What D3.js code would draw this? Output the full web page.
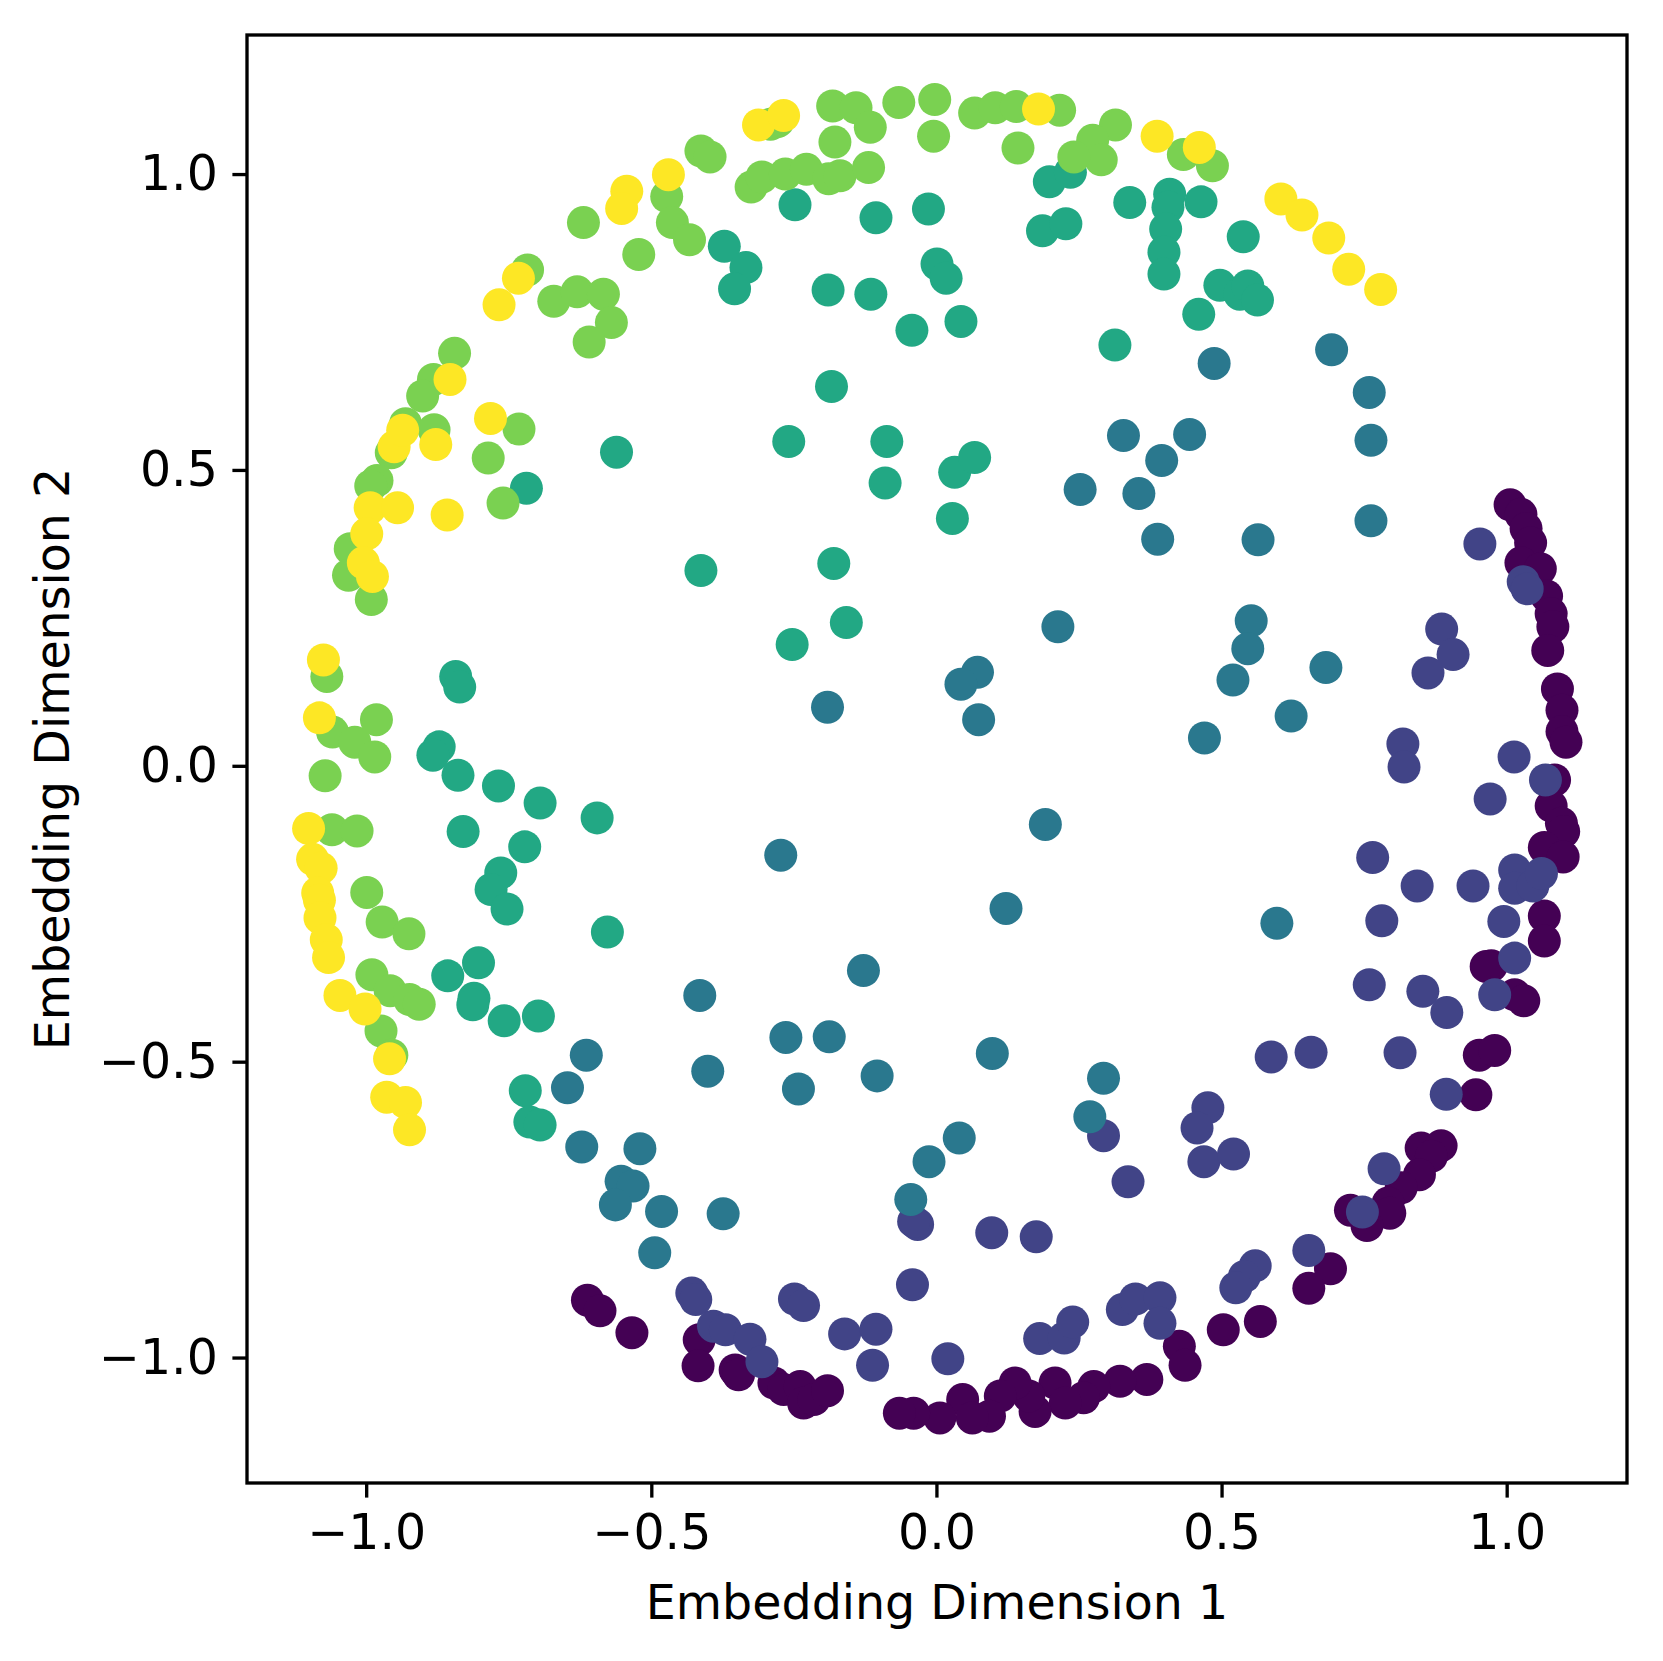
<!DOCTYPE html>
<html>
<head>
<meta charset="utf-8">
<script src="https://cdn.jsdelivr.net/npm/d3@7"></script>
<style>
  body { margin: 0; background: #fff; }
  text { font-family: "DejaVu Sans", sans-serif; }
</style>
</head>
<body>
<svg id="chart" width="1663" height="1661"></svg>
<script>
// embedding points, one array per label (0 = purple ... 5 = yellow)
var cluster0 = [
  [1.006,0.441],[1.025,0.425],[1.034,0.401],[1.042,0.377],[1.025,0.343],[1.059,0.333],
  [1.070,0.287],[1.078,0.257],[1.081,0.235],[1.072,0.195],[1.089,0.130],[1.097,0.094],
  [1.097,0.058],[1.104,0.040],[1.084,-0.024],[1.078,-0.068],[1.096,-0.097],[1.100,-0.111],
  [1.066,-0.138],[1.099,-0.154],[1.066,-0.254],[1.066,-0.296],[0.973,-0.338],[0.964,-0.339],
  [1.014,-0.387],[1.030,-0.397],[0.952,-0.489],[0.979,-0.481],[0.946,-0.556],[0.850,-0.646],
  [0.885,-0.642],[0.868,-0.660],[0.847,-0.691],[0.815,-0.713],[0.792,-0.739],[0.795,-0.756],
  [0.726,-0.751],[0.755,-0.777],[0.691,-0.850],[0.653,-0.883],[0.568,-0.939],[0.503,-0.953],
  [0.426,-0.981],[0.436,-1.013],[0.369,-1.037],[0.322,-1.040],[0.276,-1.049],[0.258,-1.068],
  [0.208,-1.043],[0.226,-1.077],[0.173,-1.091],[0.162,-1.065],[0.138,-1.043],[0.112,-1.065],
  [0.093,-1.099],[0.046,-1.071],[0.063,-1.102],[0.006,-1.102],[-0.040,-1.094],[-0.065,-1.094],
  [-0.416,-0.970],[-0.418,-1.014],[-0.353,-1.021],[-0.347,-1.029],[-0.285,-1.043],[-0.268,-1.054],
  [-0.239,-1.049],[-0.233,-1.077],[-0.215,-1.071],[-0.191,-1.056],[-0.612,-0.903],[-0.590,-0.921],
  [-0.534,-0.958]
];
var cluster1 = [
  [0.953,0.375],[1.029,0.311],[1.036,0.299],[0.886,0.231],[0.906,0.188],[0.862,0.157],
  [0.818,0.037],[1.013,0.015],[0.820,-0.002],[1.068,-0.024],[0.971,-0.056],[0.765,-0.155],
  [0.843,-0.203],[0.941,-0.203],[1.014,-0.176],[1.014,-0.207],[1.046,-0.203],[1.061,-0.182],
  [0.781,-0.262],[0.995,-0.263],[1.014,-0.325],[0.759,-0.370],[0.853,-0.381],[0.895,-0.417],
  [0.979,-0.387],[0.587,-0.492],[0.657,-0.484],[0.813,-0.485],[0.894,-0.555],[0.476,-0.578],
  [0.457,-0.612],[0.469,-0.669],[0.521,-0.656],[0.785,-0.681],[0.747,-0.754],[0.653,-0.819],
  [0.559,-0.845],[0.540,-0.863],[0.525,-0.882],[0.293,-0.625],[0.336,-0.703],[-0.033,-0.775],
  [-0.040,-0.770],[0.097,-0.789],[0.175,-0.796],[-0.042,-0.877],[-0.249,-0.901],[-0.233,-0.912],
  [-0.161,-0.960],[-0.106,-0.952],[-0.112,-1.013],[0.020,-1.002],[0.181,-0.968],[0.224,-0.967],
  [0.239,-0.940],[0.326,-0.919],[0.349,-0.901],[0.392,-0.899],[0.392,-0.942],[-0.429,-0.891],
  [-0.422,-0.902],[-0.391,-0.947],[-0.370,-0.953],[-0.327,-0.969],[-0.306,-1.007]
];
var cluster2 = [
  [0.487,0.680],[0.693,0.703],[0.759,0.631],[0.762,0.550],[0.762,0.414],[0.444,0.560],
  [0.328,0.558],[0.395,0.516],[0.252,0.467],[0.355,0.460],[0.388,0.383],[0.213,0.235],
  [0.072,0.158],[0.043,0.138],[0.074,0.078],[-0.191,0.099],[0.564,0.382],[0.552,0.245],
  [0.546,0.198],[0.520,0.145],[0.683,0.166],[0.622,0.084],[0.470,0.047],[0.191,-0.099],
  [-0.273,-0.151],[0.122,-0.241],[-0.128,-0.346],[-0.415,-0.388],[-0.264,-0.459],[-0.188,-0.458],
  [-0.401,-0.516],[-0.242,-0.546],[-0.104,-0.524],[0.098,-0.486],[0.293,-0.528],[0.269,-0.593],
  [-0.614,-0.489],[-0.647,-0.544],[0.597,-0.266],[-0.622,-0.644],[-0.520,-0.647],[-0.553,-0.702],
  [-0.532,-0.710],[-0.563,-0.742],[-0.482,-0.753],[-0.494,-0.823],[-0.374,-0.757],[0.040,-0.629],
  [-0.013,-0.669],[-0.045,-0.733]
];
var cluster3 = [
  [-0.248,0.948],[-0.106,0.926],[-0.014,0.941],[-0.372,0.878],[-0.334,0.842],[-0.354,0.806],
  [-0.190,0.804],[-0.115,0.797],[0.001,0.848],[0.017,0.824],[-0.043,0.736],[0.043,0.751],
  [0.313,0.711],[-0.184,0.641],[0.198,0.987],[0.235,1.003],[0.186,0.904],[0.227,0.916],
  [0.339,0.952],[0.409,0.966],[0.406,0.944],[0.402,0.907],[0.399,0.868],[0.399,0.831],
  [0.464,0.953],[0.538,0.894],[0.497,0.812],[0.532,0.797],[0.546,0.811],[0.563,0.787],
  [0.460,0.763],[-0.561,0.530],[-0.719,0.469],[-0.413,0.330],[-0.843,0.151],[-0.836,0.133],
  [-0.872,0.032],[-0.883,0.018],[-0.259,0.548],[-0.087,0.548],[-0.090,0.478],[0.032,0.496],
  [0.067,0.521],[0.028,0.418],[-0.180,0.342],[-0.158,0.242],[-0.253,0.205],[-0.839,-0.016],
  [-0.768,-0.034],[-0.695,-0.063],[-0.595,-0.088],[-0.830,-0.111],[-0.722,-0.137],[-0.764,-0.181],
  [-0.781,-0.209],[-0.753,-0.242],[-0.577,-0.281],[-0.857,-0.355],[-0.803,-0.333],[-0.811,-0.393],
  [-0.813,-0.404],[-0.758,-0.431],[-0.698,-0.423],[-0.721,-0.549],[-0.713,-0.602],[-0.695,-0.607]
];
var cluster4 = [
  [-0.413,1.039],[-0.397,1.029],[-0.278,1.089],[-0.291,1.084],[-0.182,1.115],[-0.141,1.112],
  [-0.116,1.079],[-0.178,1.054],[-0.066,1.121],[-0.003,1.126],[-0.005,1.064],[0.067,1.103],
  [0.103,1.112],[0.140,1.114],[0.216,1.108],[0.143,1.044],[0.314,1.083],[0.274,1.057],
  [0.289,1.024],[0.241,1.029],[0.433,1.033],[0.484,1.014],[-0.325,0.978],[-0.306,0.995],
  [-0.265,1.000],[-0.228,1.008],[-0.189,0.992],[-0.169,0.997],[-0.119,1.011],[-0.619,0.918],
  [-0.522,0.864],[-0.473,0.962],[-0.463,0.918],[-0.433,0.889],[-0.717,0.838],[-0.671,0.785],
  [-0.630,0.801],[-0.584,0.797],[-0.570,0.749],[-0.609,0.716],[-0.845,0.697],[-0.882,0.653],
  [-0.901,0.625],[-0.931,0.578],[-0.881,0.568],[-0.956,0.529],[-0.981,0.482],[-0.992,0.473],
  [-0.732,0.569],[-0.786,0.520],[-0.760,0.444],[-1.028,0.367],[-1.031,0.322],[-0.991,0.281],
  [-1.069,0.151],[-1.059,0.057],[-1.020,0.040],[-0.982,0.078],[-0.985,0.015],[-1.072,-0.017],
  [-1.060,-0.108],[-1.016,-0.110],[-0.999,-0.214],[-0.972,-0.264],[-0.925,-0.284],[-0.990,-0.353],
  [-0.958,-0.380],[-0.924,-0.395],[-0.907,-0.403],[-0.974,-0.448],[-0.955,-0.489]
];
var cluster5 = [
  [-0.312,1.083],[-0.268,1.099],[0.179,1.110],[0.387,1.064],[0.461,1.045],[0.604,0.958],
  [0.641,0.931],[0.688,0.892],[0.723,0.839],[0.779,0.805],[-0.470,0.999],[-0.543,0.971],
  [-0.552,0.942],[-0.733,0.824],[-0.767,0.779],[-0.853,0.653],[-0.782,0.587],[-0.878,0.543],
  [-0.951,0.539],[-0.936,0.567],[-0.858,0.424],[-0.993,0.436],[-0.945,0.436],[-0.999,0.392],
  [-1.005,0.343],[-0.989,0.320],[-1.075,0.179],[-1.082,0.081],[-1.101,-0.106],[-1.094,-0.158],
  [-1.079,-0.173],[-1.085,-0.215],[-1.082,-0.227],[-1.081,-0.257],[-1.070,-0.294],[-1.066,-0.324],
  [-1.046,-0.388],[-1.002,-0.411],[-0.959,-0.495],[-0.964,-0.560],[-0.931,-0.569],[-0.924,-0.615]
];
var clusters = [cluster0, cluster1, cluster2, cluster3, cluster4, cluster5];
var xTicks = [-1.0, -0.5, 0.0, 0.5, 1.0];
var yTicks = [-1.0, -0.5, 0.0, 0.5, 1.0];
var xLabel = "Embedding Dimension 1";
var yLabel = "Embedding Dimension 2";

var svg = d3.select("#chart"),
    margin = {top: 35, right: 36, bottom: 178, left: 247},
    width = +svg.attr("width") - margin.left - margin.right,
    height = +svg.attr("height") - margin.top - margin.bottom,
    g = svg.append("g").attr("transform", "translate(" + margin.left + "," + margin.top + ")");

var x = d3.scaleLinear().domain([-1.209, 1.211]).range([0, width]);
var y = d3.scaleLinear().domain([-1.212, 1.235]).range([height, 0]);
var color = d3.scaleOrdinal().domain(d3.range(6)).range(d3.range(6).map(i => d3.interpolateViridis(i / 5)));

var fmt = d => d3.format(".1f")(d).replace("-", "\u2212");
var tickFont = 49, labelFont = 47.5, tickLen = 14.6, lw = 3.33;

// points
var pts = [];
clusters.forEach((c, k) => c.forEach(p => pts.push({x: p[0], y: p[1], k: k})));
g.append("g")
  .selectAll("circle")
  .data(pts)
  .enter().append("circle")
  .attr("cx", d => x(d.x))
  .attr("cy", d => y(d.y))
  .attr("r", 16.5)
  .attr("fill", d => color(d.k));

// axes
var xa = g.append("g")
  .attr("transform", "translate(0," + height + ")")
  .call(d3.axisBottom(x).tickValues(xTicks).tickFormat(fmt).tickSize(tickLen).tickPadding(tickLen + 2));
var ya = g.append("g")
  .call(d3.axisLeft(y).tickValues(yTicks).tickFormat(fmt).tickSize(tickLen).tickPadding(tickLen));

[xa, ya].forEach(a => {
  a.select(".domain").remove();
  a.selectAll("line").attr("stroke", "#000").attr("stroke-width", lw);
  a.selectAll("text").attr("fill", "#000").style("font-size", tickFont + "px").style("font-family", "DejaVu Sans");
});

g.append("rect")
  .attr("width", width)
  .attr("height", height)
  .attr("fill", "none")
  .attr("stroke", "#000")
  .attr("stroke-width", lw);

svg.append("text")
  .attr("x", margin.left + width / 2)
  .attr("y", 1619)
  .attr("text-anchor", "middle")
  .style("font-size", labelFont + "px")
  .text(xLabel);

svg.append("text")
  .attr("transform", "translate(69," + (margin.top + height / 2) + ") rotate(-90)")
  .attr("text-anchor", "middle")
  .style("font-size", labelFont + "px")
  .text(yLabel);
</script>
</body>
</html>
